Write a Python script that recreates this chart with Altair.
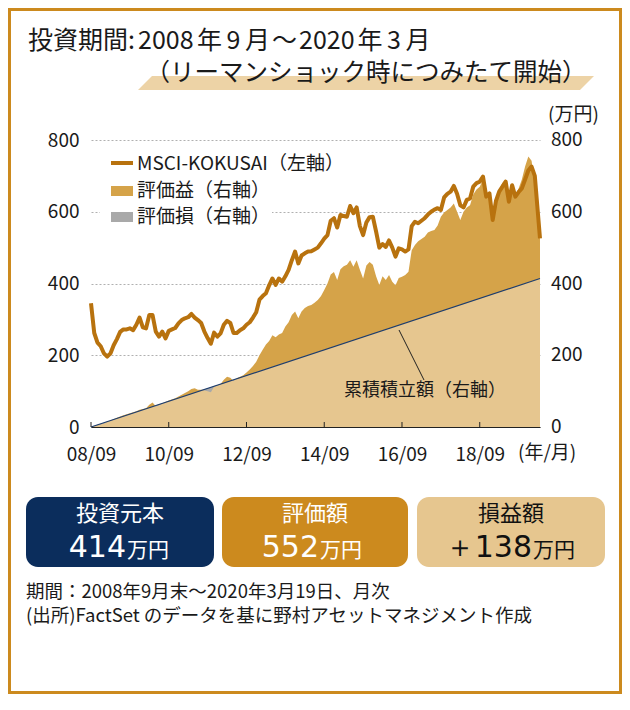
import json
import altair as alt
import pandas as pd

FONT = "Noto Sans CJK JP"
NUMFONT = "DejaVu Sans"

# ---------------- data ----------------
msci_months = list(range(0, 138)) + [138.6]
msci_values = [345, 262, 235, 225, 205, 196, 205, 228, 245, 265,
               272, 272, 275, 270, 285, 305, 278, 275, 312, 312,
               266, 252, 266, 247, 268, 272, 276, 289, 298, 303,
               306, 315, 305, 298, 290, 266, 248, 232, 263, 252,
               261, 285, 296, 290, 262, 262, 270, 275, 285, 292,
               305, 320, 355, 365, 373, 395, 414, 396, 414, 405,
               420, 438, 465, 489, 456, 478, 484, 489, 490, 495,
               500, 512, 525, 535, 575, 582, 556, 591, 588, 586,
               616, 596, 612, 560, 535, 570, 585, 586, 545, 500,
               510, 502, 520, 500, 475, 498, 495, 489, 495, 560,
               572, 568, 575, 582, 592, 600, 606, 610, 605, 640,
               650, 656, 672, 650, 618, 612, 633, 637, 670, 680,
               684, 698, 642, 651, 577, 630, 656, 670, 684, 628,
               674, 642, 655, 665, 690, 715, 726, 700, 526]

val_months = [0, 2, 4, 6, 8, 10, 12, 14, 15, 17, 18, 19, 20, 22, 24, 26, 28,
              30, 31, 32, 33, 34, 35, 36, 37, 38, 40, 41, 42, 43, 44, 45, 46, 47] + \
             list(range(48, 138)) + [138.6]
val_values = [0, 5, 10, 18, 26, 33, 38, 44, 48, 52, 62, 68, 58, 66, 74, 80, 90,
              100, 106, 108, 104, 104, 104, 100, 97, 112, 120, 132, 140, 137, 128, 136, 140, 144,
              152, 160, 170, 182, 200, 215, 230, 240, 256, 250,
              258, 262, 280, 292, 312, 322, 303, 322, 332, 337,
              340, 346, 354, 365, 382, 400, 425, 432, 410, 440,
              448, 452, 465, 447, 465, 438, 414, 450, 460, 452,
              420, 396, 420, 410, 424, 405, 395, 415, 419, 424,
              433, 493, 507, 518, 524, 530, 542, 546, 549, 562,
              586, 598, 605, 612, 623, 600, 577, 600, 612, 618,
              648, 662, 670, 690, 637, 645, 582, 640, 661, 680,
              690, 633, 679, 647, 665, 690, 726, 754, 742, 680,
              552]

inv_months = [0, 138.6]
inv_values = [0, 414]

loss_months = [1, 2.5, 4, 5.5, 19.6, 20.3, 21.5, 22, 34.3, 35, 36, 37, 38, 38.6, 43.6, 44, 44.8]
loss_low = [3, 5.5, 10, 16.5, 58.8, 57.5, 62.5, 66, 103, 102, 100, 97, 112, 115.8, 130.8, 128, 134.4]
loss_high = [3, 7.5, 12, 16.5, 58.8, 61, 64.5, 66, 103, 105, 108, 111, 114, 115.8, 130.8, 132, 134.4]

x_tick_values = [0, 24, 48, 72, 96, 120]
x_tick_labels = ["08/09", "10/09", "12/09", "14/09", "16/09", "18/09"]
y_tick_values = [0, 200, 400, 600, 800]

legend_labels = ["MSCI-KOKUSAI（左軸）", "評価益（右軸）", "評価損（右軸）"]
box_titles = ["投資元本", "評価額", "損益額"]
box_numbers = ["414", "552", "＋138"]
box_unit = "万円"
# title "投資期間:2008年9月～2020年3月", set run by run to follow the original spacing
title_pieces = ["投資期間:", "2008", "年", "9", "月", "～", "2020", "年", "3", "月"]
title_piece_x = [28, 138, 197, 226.5, 245, 272, 299, 357.5, 387, 405.5]
subtitle_text = "（リーマンショック時につみたて開始）"
annot_text = "累積積立額（右軸）"
unit_text = "(万円)"
xunit_text = "(年/月)"
foot_lines = ["期間：2008年9月末～2020年3月19日、月次",
              "(出所)FactSet のデータを基に野村アセットマネジメント作成"]

# ---------------- style ----------------
ORANGE = "#b8720e"
GOLD = "#d5a349"
TAN = "#e6c68f"
GREY = "#a9a9a9"
NAVY = "#1d3d6e"
FRAME = "#cc8a1e"
BAND = "#edd3a6"
BOX_COLORS = ["#0b2d5c", "#cc8a1e", "#e6c68f"]
BOX_TEXT = ["white", "white", "#111111"]
TXT = "#1a1a1a"

OX, OY = 91, 140          # page position of plot origin
W, H = 449, 287
TOTAL_W, TOTAL_H = 614, 686


def px(x):
    return x - OX


def py(y):
    return y - OY


xs = alt.Scale(domain=[0, 138.6], nice=False, zero=False)
ys = alt.Scale(domain=[0, 800], nice=False)
x_axis = alt.Axis(values=x_tick_values,
                  labelExpr=json.dumps(x_tick_labels) + "[round(datum.value/24)]",
                  ticks=False, grid=False, domain=True, domainColor="#222222", domainWidth=1.2,
                  labelFontSize=19, labelFont=FONT, labelColor=TXT, labelPadding=27,
                  labelBaseline="middle", labelFlush=False, labelOverlap=False, title=None)
y_axis = alt.Axis(values=y_tick_values, ticks=False, domain=False, grid=True,
                  gridColor="#b0b0b0", gridDash=[2, 2], gridWidth=1,
                  labelFontSize=19, labelFont=FONT, labelColor=TXT, labelPadding=12,
                  labelFlush=False, title=None)

X = alt.X("m:Q", scale=xs, axis=x_axis)

msci_df = pd.DataFrame({"m": msci_months, "v": msci_values})
val_df = pd.DataFrame({"m": val_months, "v": val_values})
inv_df = pd.DataFrame({"m": inv_months, "v": inv_values})
loss_df = pd.DataFrame({"m": loss_months, "lo": loss_low, "hi": loss_high})
xt_df = pd.DataFrame({"m": x_tick_values})
yt_df = pd.DataFrame({"v": y_tick_values})
one = pd.DataFrame({"t": [""]})

layers = []

gold = alt.Chart(val_df).mark_area(color=GOLD, opacity=1).encode(
    x=X, y=alt.Y("v:Q", scale=ys, axis=y_axis))
tan = alt.Chart(inv_df).mark_area(color=TAN, opacity=1).encode(
    x=X, y=alt.Y("v:Q", scale=ys, axis=y_axis))
loss = alt.Chart(loss_df).mark_area(color=GREY, opacity=1).encode(
    x=X, y=alt.Y("lo:Q", scale=ys, axis=y_axis), y2="hi:Q")
invline = alt.Chart(inv_df).mark_line(color=NAVY, strokeWidth=1.2).encode(
    x=X, y=alt.Y("v:Q", scale=ys, axis=y_axis))
msci = alt.Chart(msci_df).mark_line(color=ORANGE, strokeWidth=4, strokeJoin="round").encode(
    x=X, y=alt.Y("v:Q", scale=ys, axis=y_axis))
xticks = alt.Chart(xt_df).mark_rule(color="#222222", strokeWidth=1).encode(
    x=X, y=alt.value(H), y2=alt.value(H - 5))
rlabels = alt.Chart(yt_df).mark_text(align="left", baseline="middle", fontSize=19,
                                     font=FONT, color=TXT).encode(
    x=alt.value(px(551)), y=alt.Y("v:Q", scale=ys, axis=y_axis), text="v:Q")

layers += [gold, tan, loss, invline, msci, xticks, rlabels]


def text(t, x, y, size, align="left", color=TXT, baseline="middle", font=FONT):
    return alt.Chart(pd.DataFrame({"t": [t]})).mark_text(
        align=align, baseline=baseline, fontSize=size, font=font, color=color).encode(
        x=alt.value(px(x)), y=alt.value(py(y)), text="t:N")


def rect(x1, y1, x2, y2, color, radius=0):
    return alt.Chart(one).mark_rect(color=color, opacity=1, cornerRadius=radius).encode(
        x=alt.value(px(x1)), x2=alt.value(px(x2)), y=alt.value(py(y1)), y2=alt.value(py(y2)))


# legend
layers.append(rect(100, 198, 272, 228, "white"))
layers.append(alt.Chart(one).mark_rule(color=ORANGE, strokeWidth=4).encode(
    x=alt.value(px(111)), x2=alt.value(px(133)), y=alt.value(py(163)), y2=alt.value(py(163))))
layers.append(rect(111, 186, 133, 196, GOLD))
layers.append(rect(111, 212, 133, 222, GREY))
for i, lab in enumerate(legend_labels):
    layers.append(text(lab, 137, 164 + i * 26.5, 19))

# annotation
layers.append(alt.Chart(one).mark_rule(color="#222222", strokeWidth=1).encode(
    x=alt.value(px(399)), x2=alt.value(px(424)), y=alt.value(py(330)), y2=alt.value(py(380))))
layers.append(text(annot_text, 425, 391, 18, align="center"))

# axis extras
layers.append(text(unit_text, 548, 115, 19))
layers.append(text(xunit_text, 518, 453, 19))

# header
band_path = "M -1 0.0307 L -0.9386 -0.0307 L 1 -0.0307 L 0.9386 0.0307 Z"
layers.append(alt.Chart(one).mark_point(shape=band_path, filled=True, size=456 ** 2,
                                        color=BAND, opacity=1, strokeWidth=0).encode(
    x=alt.value(px(366)), y=alt.value(py(83))))
for t, x in zip(title_pieces, title_piece_x):
    layers.append(text(t, x, 41, 25))
layers.append(text(subtitle_text, 366, 74, 24.5, align="center"))

# boxes
box_x = [(26, 214), (222, 408), (417, 605)]
num_right = [126, 319, 532]
for i in range(3):
    x1, x2 = box_x[i]
    layers.append(rect(x1, 497, x2, 567, BOX_COLORS[i], radius=12))
    layers.append(text(box_titles[i], (x1 + x2) / 2, 514, 22, align="center", color=BOX_TEXT[i]))
    layers.append(text(box_numbers[i], num_right[i], 557, 30, align="right",
                       color=BOX_TEXT[i], baseline="alphabetic", font=NUMFONT))
    layers.append(text(box_unit, num_right[i] + 1, 557, 21, align="left",
                       color=BOX_TEXT[i], baseline="alphabetic"))

# footnote
layers.append(text(foot_lines[0], 26, 592, 18.5))
layers.append(text(foot_lines[1], 26, 616, 18.5))

# frame (svg starts at page 8,8)
layers.append(alt.Chart(one).mark_rect(fillOpacity=0, stroke=FRAME, strokeWidth=3).encode(
    x=alt.value(9.5 - OX), x2=alt.value(8 + TOTAL_W - 1.5 - OX),
    y=alt.value(9.5 - OY), y2=alt.value(8 + TOTAL_H - 1.5 - OY)))

chart = alt.layer(*layers).properties(
    width=W, height=H,
    padding={"left": OX - 8, "top": OY - 8,
             "right": TOTAL_W - (OX - 8) - W, "bottom": TOTAL_H - (OY - 8) - H},
    autosize=alt.AutoSizeParams(type="none"),
).configure_view(stroke=None)

chart.save("out.html", embed_options={"renderer": "svg", "actions": False})
